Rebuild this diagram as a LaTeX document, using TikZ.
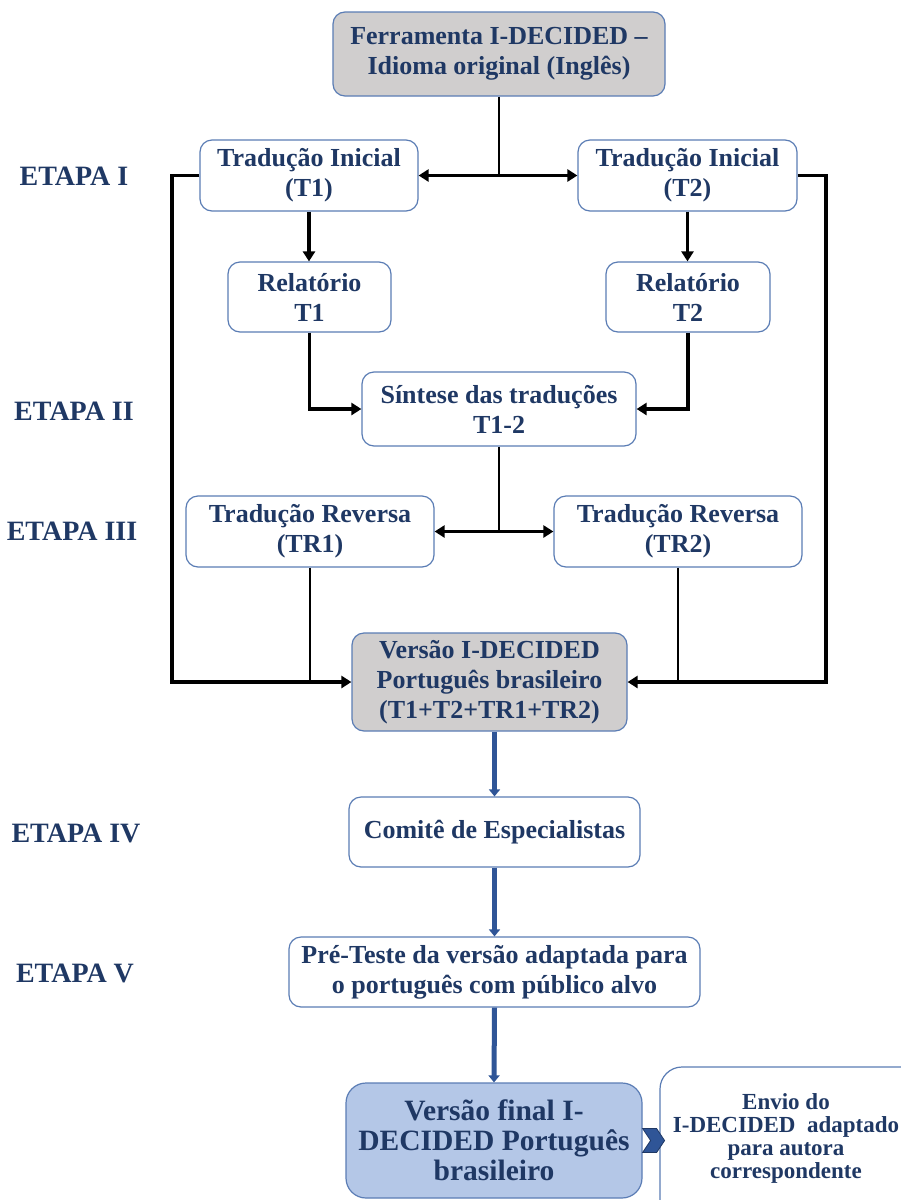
\documentclass[tikz,border=0pt]{standalone}
\usepackage{fontspec}
\setmainfont{Liberation Serif}
\usetikzlibrary{arrows.meta,calc}
\definecolor{navy}{HTML}{1F3864}
\definecolor{bord}{HTML}{5B7DB5}
\definecolor{grayfill}{HTML}{D0CECE}
\definecolor{bluefill}{HTML}{B4C7E7}
\definecolor{arrblue}{HTML}{2F5597}
\begin{document}
\begin{tikzpicture}[x=1pt,y=-1pt,
  box/.style={draw=bord, line width=1.2pt, rounded corners=12pt, fill=white, text=navy,
    font=\bfseries\fontsize{26}{30}\selectfont, align=center, inner sep=0pt},
  etapa/.style={text=navy, font=\bfseries\fontsize{28}{30}\selectfont, inner sep=0pt},
  thk/.style={line width=3.5pt, black},
  thn/.style={line width=2pt, black},
  tip/.style={-{Triangle[length=10pt,width=12pt]}},
  tips/.style={{Triangle[length=10pt,width=12pt]}-{Triangle[length=10pt,width=12pt]}},
  barr/.style={line width=5pt, arrblue, -{Triangle[length=7pt,width=11pt]}}]
\clip (0,0) rectangle (901,1200);
\fill[white] (0,0) rectangle (901,1200);

% nodes
\node[box, fill=grayfill, minimum width=332pt, minimum height=84pt] (top) at (499,54) {Ferramenta I-DECIDED –\\Idioma original (Inglês)};
\node[box, minimum width=218pt, minimum height=71pt] (t1) at (309,175.5) {Tradução Inicial\\(T1)};
\node[box, minimum width=219pt, minimum height=71pt] (t2) at (687.5,175.5) {Tradução Inicial\\(T2)};
\node[box, minimum width=163pt, minimum height=70pt] (r1) at (309.5,297) {Relatório\\T1};
\node[box, minimum width=164pt, minimum height=70pt] (r2) at (688,297) {Relatório\\T2};
\node[box, minimum width=274pt, minimum height=74pt] (sin) at (499,409) {Síntese das traduções\\T1-2};
\node[box, minimum width=248pt, minimum height=71pt] (tr1) at (310,531.5) {Tradução Reversa\\(TR1)};
\node[box, minimum width=248pt, minimum height=71pt] (tr2) at (678,531.5) {Tradução Reversa\\(TR2)};
\node[box, fill=grayfill, minimum width=275pt, minimum height=98pt] (ver) at (489.5,682) {Versão I-DECIDED\\Português brasileiro\\(T1+T2+TR1+TR2)};
\node[box, minimum width=291pt, minimum height=70pt] (com) at (494.5,832) {Comitê de Especialistas};
\node[box, minimum width=411pt, minimum height=70pt] (pre) at (494.5,972) {Pré-Teste da versão adaptada para\\o português com público alvo};
\node[box, fill=bluefill, rounded corners=20pt, minimum width=296pt, minimum height=115pt,
  font=\bfseries\fontsize{29.5}{30}\selectfont] (fin) at (494,1140.5) {Versão final I-\\DECIDED Português\\brasileiro};
\node[box, rounded corners=22pt, minimum width=262pt, minimum height=166pt] (envbox) at (791,1150) {};
\node[text=navy, font=\bfseries\fontsize{23}{23}\selectfont, align=center, inner sep=0pt] (env) at (786,1138)
  {Envio do\\I-DECIDED~~adaptado\\para autora\\correspondente};

% stage labels
\node[etapa] (e1) at (74,176) {ETAPA I};
\node[etapa] (e2) at (74,411) {ETAPA II};
\node[etapa] (e3) at (72,531) {ETAPA III};
\node[etapa] (e4) at (76,833) {ETAPA IV};
\node[etapa] (e5) at (75,973) {ETAPA V};

% connectors
\coordinate (j1) at (top.south |- t1.east);
\draw[thn, line width=2.5pt] (top.south) -- (j1);
\draw[thk, tips] (t1.east) -- (t2.west);
\draw[thk, tip] (t1.south) -- (t1.south |- r1.north);
\draw[thk, tip] (t2.south) -- (t2.south |- r2.north);
\draw[thk, tip] (r1.south) |- (sin.west);
\draw[thk, tip] (r2.south) |- (sin.east);
\coordinate (j2) at (sin.south |- tr1.east);
\draw[thn] (sin.south) -- (j2);
\draw[thk, tips] (tr1.east) -- (tr2.west);
\coordinate (lx) at (172,0);
\coordinate (rx) at (826,0);
\draw[thk, tip] (t1.west) -- (t1.west -| lx) -- (ver.west -| lx) -- (ver.west);
\draw[thk, tip] (t2.east) -- (t2.east -| rx) -- (ver.east -| rx) -- (ver.east);
\draw[thn] (tr1.south) -- (tr1.south |- ver.west);
\draw[thn] (tr2.south) -- (tr2.south |- ver.east);
\draw[barr] (ver.south -| com.north) -- (com.north);
\draw[barr] (com.south) -- (pre.north);
\draw[barr] (pre.south) -- (fin.north);
\fill[arrblue, draw=navy, line width=0.8pt] ($(fin.east)+(0,-12)$) -- ++(14,0) -- ++(8,12) -- ++(-8,12) -- ++(-14,0) -- ++(8,-12) -- cycle;
\end{tikzpicture}
\end{document}
